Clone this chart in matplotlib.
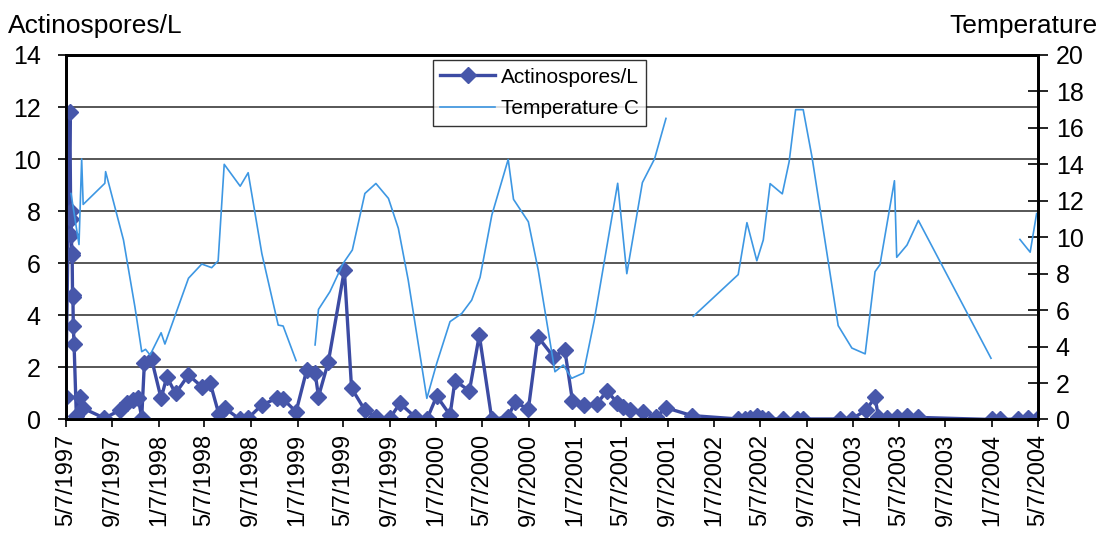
import numpy as np
import pandas as pd
import matplotlib
matplotlib.use("Agg")
import matplotlib.pyplot as plt
import matplotlib.dates as mdates

# Actinospore counts per litre
actino_dates = [
    "1997-05-07", "1997-05-18", "1997-05-20", "1997-05-21", "1997-05-22", "1997-05-23",
    "1997-05-24", "1997-05-25", "1997-05-26", "1997-05-27", "1997-05-29", "1997-06-04",
    "1997-06-14", "1997-06-22", "1997-08-17", "1997-09-27", "1997-10-14", "1997-11-01",
    "1997-11-14", "1997-11-23", "1997-11-30", "1997-12-19", "1998-01-13", "1998-01-28",
    "1998-02-20", "1998-03-26", "1998-04-30", "1998-05-22", "1998-06-14", "1998-06-30",
    "1998-08-09", "1998-08-30", "1998-10-05", "1998-11-13", "1998-11-30", "1999-01-03",
    "1999-01-31", "1999-02-22", "1999-03-03", "1999-03-29", "1999-05-10", "1999-05-29",
    "1999-07-03", "1999-07-31", "1999-09-07", "1999-10-03", "1999-11-12", "1999-12-13",
    "2000-01-08", "2000-02-12", "2000-02-25", "2000-04-03", "2000-04-29", "2000-06-01",
    "2000-07-14", "2000-08-01", "2000-09-05", "2000-09-30", "2000-11-10", "2000-12-10",
    "2000-12-30", "2001-01-29", "2001-03-04", "2001-03-31", "2001-04-26", "2001-05-13",
    "2001-05-30", "2001-07-04", "2001-08-08", "2001-09-02", "2001-11-09", "2002-03-11",
    "2002-03-29", "2002-04-11", "2002-04-29", "2002-05-12", "2002-05-29", "2002-07-08",
    "2002-08-12", "2002-08-29", "2002-12-04", "2003-01-04", "2003-02-10", "2003-03-06",
    "2003-03-15", "2003-04-06", "2003-05-02", "2003-05-28", "2003-06-28", "2004-01-07",
    "2004-01-29", "2004-03-17", "2004-04-12", "2004-05-04",
]
actino_per_l = [
    0.85, 11.8, 8.0, 7.7, 7.1, 6.4,
    6.3, 4.8, 4.7, 3.6, 2.9, 0.15,
    0.85, 0.43, 0.05, 0.36, 0.62, 0.75,
    0.81, 0.07, 2.18, 2.31, 0.81, 1.64,
    1.0, 1.71, 1.26, 1.41, 0.2, 0.43,
    0.0, 0.05, 0.56, 0.81, 0.78, 0.3,
    1.9, 1.8, 0.88, 2.22, 5.74, 1.2,
    0.36, 0.1, 0.05, 0.62, 0.1, 0.0,
    0.9, 0.17, 1.49, 1.1, 3.24, 0.0,
    0.1, 0.68, 0.39, 3.18, 2.41, 2.67,
    0.72, 0.55, 0.6, 1.1, 0.65, 0.49,
    0.36, 0.27, 0.1, 0.45, 0.15, 0.02,
    0.02, 0.05, 0.15, 0.05, 0.02, 0.02,
    0.02, 0.02, 0.02, 0.02, 0.36, 0.85,
    0.08, 0.05, 0.08, 0.12, 0.08, 0.0,
    0.0, 0.02, 0.05, 0.02,
]

# Water temperature (deg C); None marks a break in the record
temp_dates = [
    "1997-05-21", "1997-06-11", "1997-06-18", "1997-06-22", "1997-08-18", "1997-08-20",
    "1997-10-06", "1997-11-05", "1997-11-23", "1997-12-03", "1997-12-15", "1998-01-13",
    "1998-01-23", "1998-03-26", "1998-04-30", "1998-05-26", "1998-06-12", "1998-06-28",
    "1998-08-09", "1998-08-30", "1998-10-05", "1998-11-17", "1998-11-30", "1999-01-03",
    "1999-01-28",
    "1999-02-22", "1999-03-03", "1999-04-02", "1999-05-07", "1999-05-31", "1999-07-03",
    "1999-08-01", "1999-09-03", "1999-09-29", "1999-10-25", "1999-12-13", "2000-01-08",
    "2000-02-12", "2000-03-14", "2000-04-09", "2000-05-01", "2000-06-01", "2000-07-14",
    "2000-07-28", "2000-09-05", "2000-10-01", "2000-11-14", "2000-12-06", "2000-12-28",
    "2001-01-28", "2001-02-25", "2001-04-28", "2001-05-22", "2001-07-02", "2001-08-03",
    "2001-09-02",
    "2001-10-01",
    "2001-11-13", "2002-03-11", "2002-04-03", "2002-04-29", "2002-05-16", "2002-06-03",
    "2002-07-05", "2002-07-23", "2002-08-09", "2002-08-29", "2002-09-21", "2002-11-29",
    "2003-01-04", "2003-02-08", "2003-03-06", "2003-03-19", "2003-04-26", "2003-05-02",
    "2003-05-29", "2003-06-28", "2004-01-05",
    "2004-02-10",
    "2004-03-21", "2004-04-17", "2004-05-04",
]
temp_c = [
    12.4, 9.6, 14.3, 11.8, 12.96, 13.6,
    9.85, 6.19, 3.72, 3.85, 3.54, 4.76,
    4.14, 7.75, 8.53, 8.33, 8.7, 14.0,
    12.8, 13.54, 9.1, 5.18, 5.13, 3.23,
    None,
    4.09, 6.04, 7.01, 8.57, 9.3, 12.4,
    12.95, 12.13, 10.49, 7.65, 1.16, 3.08,
    5.37, 5.82, 6.55, 7.8, 11.22, 14.27,
    12.08, 10.85, 8.2, 2.62, 2.99, 2.26,
    2.55, 5.4, 12.96, 8.0, 13.0, 14.3,
    16.52,
    None,
    5.66, 7.95, 10.8, 8.71, 9.85, 12.94,
    12.38, 14.14, 17.0, 17.0, 14.42, 5.15,
    3.92, 3.6, 8.11, 8.5, 13.1, 8.9,
    9.57, 10.92, 3.36,
    None,
    9.88, 9.18, 11.3,
]

x_start, x_end = "1997-05-07", "2004-05-07"
left_ticks = list(range(0, 15, 2))
right_ticks = list(range(0, 21, 2))

actino_color = "#3C4BA3"
temp_color = "#3D97E3"
font = "Liberation Sans"
plt.rcParams["font.family"] = [font, "DejaVu Sans"]

a_x = pd.to_datetime(actino_dates)
a_y = np.array(actino_per_l, dtype=float)
t_x = pd.to_datetime(temp_dates)
t_y = np.array([np.nan if v is None else v for v in temp_c], dtype=float)

fig = plt.figure(figsize=(11.04, 5.46), dpi=100)
ax = fig.add_axes([0.0595, 0.2317, 0.8805, 0.6676])
ax2 = ax.twinx()

ax.set_ylim(0, 14)
ax.set_yticks(left_ticks)
ax2.set_ylim(0, 20)
ax2.set_yticks(right_ticks)
ax.set_xlim(pd.Timestamp(x_start), pd.Timestamp(x_end))

ax.yaxis.grid(True, color="#3a3a3a", linewidth=1.2)
ax.set_axisbelow(True)

l1, = ax.plot(a_x, a_y, color=actino_color, linewidth=2.4, marker="D",
              markersize=8.5, markerfacecolor="#4757AA", markeredgecolor="#4757AA",
              label="Actinospores/L", zorder=3)
l2, = ax2.plot(t_x, t_y, color=temp_color, linewidth=1.2, label="Temperature C")

ax.xaxis.set_major_locator(mdates.MonthLocator(bymonth=[1, 5, 9], bymonthday=7))
ax.xaxis.set_major_formatter(
    matplotlib.ticker.FuncFormatter(
        lambda v, p: (lambda d: f"{d.month}/{d.day}/{d.year}")(mdates.num2date(v))))

for sp in list(ax.spines.values()) + list(ax2.spines.values()):
    sp.set_linewidth(2.0)
    sp.set_color("black")

ax.tick_params(axis="y", direction="out", length=6, width=1.2, labelsize=18, pad=12)
ax.tick_params(axis="x", direction="out", length=6, width=1.2, labelsize=17,
               labelrotation=90, pad=4)
ax2.tick_params(axis="y", direction="inout", length=14, width=1.2, labelsize=18, pad=6)

fig.text(0.007, 0.94, "Actinospores/L", fontsize=19, ha="left", va="baseline")
fig.text(0.994, 0.94, "Temperature", fontsize=19, ha="right", va="baseline")

leg = ax2.legend(handles=[l1, l2], loc="upper left", bbox_to_anchor=(0.378, 0.985),
                 borderaxespad=0, fontsize=15, frameon=True, fancybox=False,
                 edgecolor="black", handlelength=2.6, handletextpad=0.3,
                 labelspacing=0.6, borderpad=0.35)
leg.get_frame().set_linewidth(1.0)

fig.savefig("out.png", dpi=100)
